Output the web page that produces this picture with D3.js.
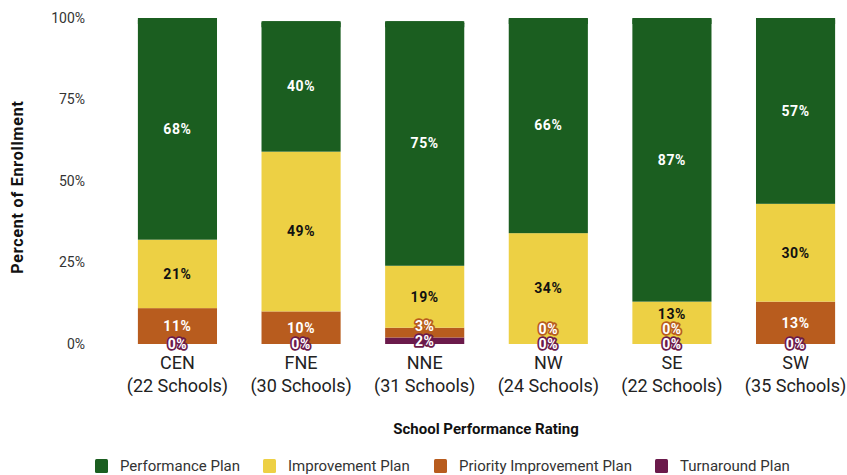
<!DOCTYPE html>
<html>
<head>
<meta charset="utf-8">
<script src="https://cdn.jsdelivr.net/npm/d3@7"></script>
<style>
  body { margin: 0; background: #fff; }
  svg { font-family: Roboto, "Noto Sans", sans-serif; }
</style>
</head>
<body>
<svg id="chart" width="847" height="475"></svg>
<script>
// regions and their school counts
const regions = ['CEN', 'FNE', 'NNE', 'NW', 'SE', 'SW'];
const schools = ['22 Schools', '30 Schools', '31 Schools', '24 Schools', '22 Schools', '35 Schools'];

// percent of enrollment per rating (bottom to top of the stack)
const turnaround = [0, 0, 2, 0, 0, 0];
const priority = [11, 10, 3, 0, 0, 13];
const improvement = [21, 49, 19, 34, 13, 30];
const performance = [68, 40, 75, 66, 87, 57];

const yTicks = [0, 25, 50, 75, 100];

const series = [
    { name: 'Turnaround Plan', values: turnaround, color: '#6b1a4b', text: '#fff' },
    { name: 'Priority Improvement Plan', values: priority, color: '#b85c1e', text: '#fff' },
    { name: 'Improvement Plan', values: improvement, color: '#edd044', text: '#111' },
    { name: 'Performance Plan', values: performance, color: '#1b5e20', text: '#fff' }
];

const svg = d3.select('#chart');

const x = d3.scaleBand()
    .domain(regions)
    .range([128, 845])
    .paddingInner(0.36)
    .paddingOuter(0.08);

const y = d3.scaleLinear()
    .domain([0, 100])
    .range([344, 18]);

// y axis tick labels
svg.append('g')
    .selectAll('text')
    .data(yTicks)
    .join('text')
    .attr('x', 85)
    .attr('y', d => y(d))
    .attr('dy', '0.35em')
    .attr('text-anchor', 'end')
    .style('font-size', '14px')
    .style('fill', '#333')
    .text(d => d + '%');

// stack the data
const rows = regions.map((r, i) => {
    const row = { region: r };
    series.forEach(s => { row[s.name] = s.values[i]; });
    return row;
});
const stack = d3.stack().keys(series.map(s => s.name));
const stacked = stack(rows);

// bars
const layer = svg.append('g')
    .selectAll('g')
    .data(stacked)
    .join('g')
    .attr('fill', (d, i) => series[i].color);

layer.selectAll('rect')
    .data(d => d)
    .join('rect')
    .attr('x', d => x(d.data.region))
    .attr('y', d => y(d[1]))
    .attr('width', x.bandwidth())
    .attr('height', d => y(d[0]) - y(d[1]));

// slight rounded top on each full bar
const topSeg = stacked[stacked.length - 1];
svg.append('g')
    .attr('fill', series[3].color)
    .selectAll('path')
    .data(topSeg)
    .join('path')
    .attr('d', d => {
        const x0 = x(d.data.region), w = x.bandwidth(), t = y(d[1]), r = 2;
        return `M${x0},${t + 6}V${t + r}Q${x0},${t} ${x0 + r},${t}H${x0 + w - r}Q${x0 + w},${t} ${x0 + w},${t + r}V${t + 6}Z`;
    });

// data labels, pushed upward when they collide
const labels = svg.append('g');
regions.forEach((r, j) => {
    let prev = null;
    series.forEach((s, i) => {
        const seg = stacked[i][j];
        const top = y(seg[1]), bottom = y(seg[0]);
        let cy = (top + bottom) / 2;
        if (prev !== null) cy = Math.min(cy, prev - 15);
        prev = cy;
        const small = bottom - top < 15;
        const t = labels.append('text')
            .attr('x', x(r) + x.bandwidth() / 2)
            .attr('y', cy)
            .attr('dy', '0.35em')
            .attr('text-anchor', 'middle')
            .style('font-size', '14px')
            .style('font-weight', 'bold')
            .style('letter-spacing', '0.6px')
            .text(s.values[j] + '%');
        if (small && s.name !== 'Improvement Plan') {
            t.style('fill', '#fff')
                .style('stroke', s.color)
                .style('stroke-width', 3.5)
                .style('stroke-linejoin', 'round')
                .style('paint-order', 'stroke');
        } else {
            t.style('fill', s.text);
        }
    });
});

// category labels
const cat = svg.append('g')
    .selectAll('text')
    .data(regions)
    .join('text')
    .attr('text-anchor', 'middle')
    .style('font-size', '18px')
    .style('fill', '#222');
cat.append('tspan').attr('x', d => x(d) + x.bandwidth() / 2).attr('y', 369).text(d => d);
cat.append('tspan').attr('x', d => x(d) + x.bandwidth() / 2).attr('y', 392).text((d, i) => '(' + schools[i] + ')');

// axis titles
svg.append('text')
    .attr('transform', 'translate(23,187) rotate(-90)')
    .attr('text-anchor', 'middle')
    .style('font-size', '16px')
    .style('font-weight', 'bold')
    .style('letter-spacing', '0.8px')
    .style('fill', '#111')
    .text('Percent of Enrollment');

svg.append('text')
    .attr('x', 486)
    .attr('y', 434)
    .attr('text-anchor', 'middle')
    .style('font-size', '15px')
    .style('font-weight', 'bold')
    .style('fill', '#111')
    .text('School Performance Rating');

// legend
const legendItems = series.slice().reverse();
const legendX = [95, 263, 434, 655];
const legend = svg.append('g')
    .selectAll('g')
    .data(legendItems)
    .join('g')
    .attr('transform', (d, i) => `translate(${legendX[i]},459)`);
legend.append('rect')
    .attr('width', 13)
    .attr('height', 14)
    .attr('rx', 1.5)
    .attr('fill', d => d.color);
legend.append('text')
    .attr('x', 25)
    .attr('y', 7)
    .attr('dy', '0.35em')
    .style('font-size', '15px')
    .style('fill', '#333')
    .text(d => d.name);
</script>
</body>
</html>
